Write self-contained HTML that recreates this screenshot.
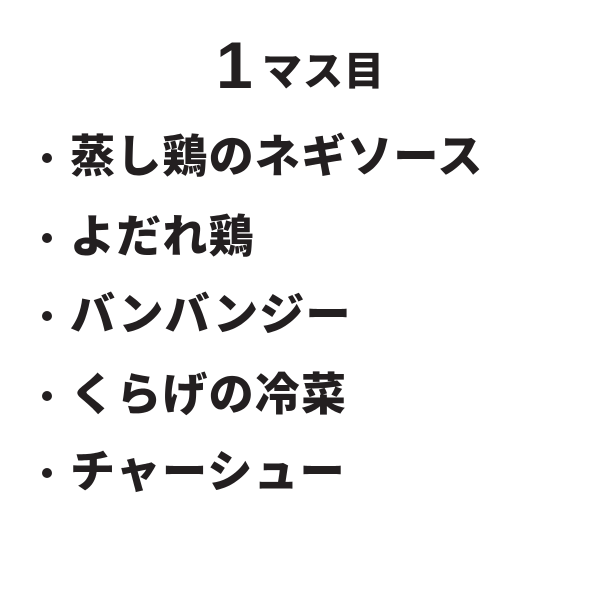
<!DOCTYPE html>
<html><head><meta charset="utf-8"><style>
body{margin:0;width:600px;height:600px;background:#fff;position:relative;overflow:hidden;font-family:"Liberation Sans","Noto Sans CJK JP",sans-serif;font-weight:900;color:#231f20}
.t{position:absolute;white-space:nowrap;line-height:1}
.l{font-size:45px;left:70px;letter-spacing:1.2px}
.d{position:absolute;left:42px;width:10px;height:10px;border-radius:50%;background:#231f20}
</style></head><body>
<div class="t" style="left:216px;top:32px;font-size:66px;">1</div>
<div class="t" style="left:262px;top:52px;font-size:40px;letter-spacing:1px">マス目</div>
<div class="d" style="top:153px"></div><div class="t l" style="top:134px">蒸し鶏のネギソース</div>
<div class="d" style="top:233px"></div><div class="t l" style="top:214px">よだれ鶏</div>
<div class="d" style="top:311px"></div><div class="t l" style="top:292px">バンバンジー</div>
<div class="d" style="top:391px"></div><div class="t l" style="top:372px">くらげの冷菜</div>
<div class="d" style="top:468px"></div><div class="t l" style="top:449px">チャーシュー</div>
</body></html>
